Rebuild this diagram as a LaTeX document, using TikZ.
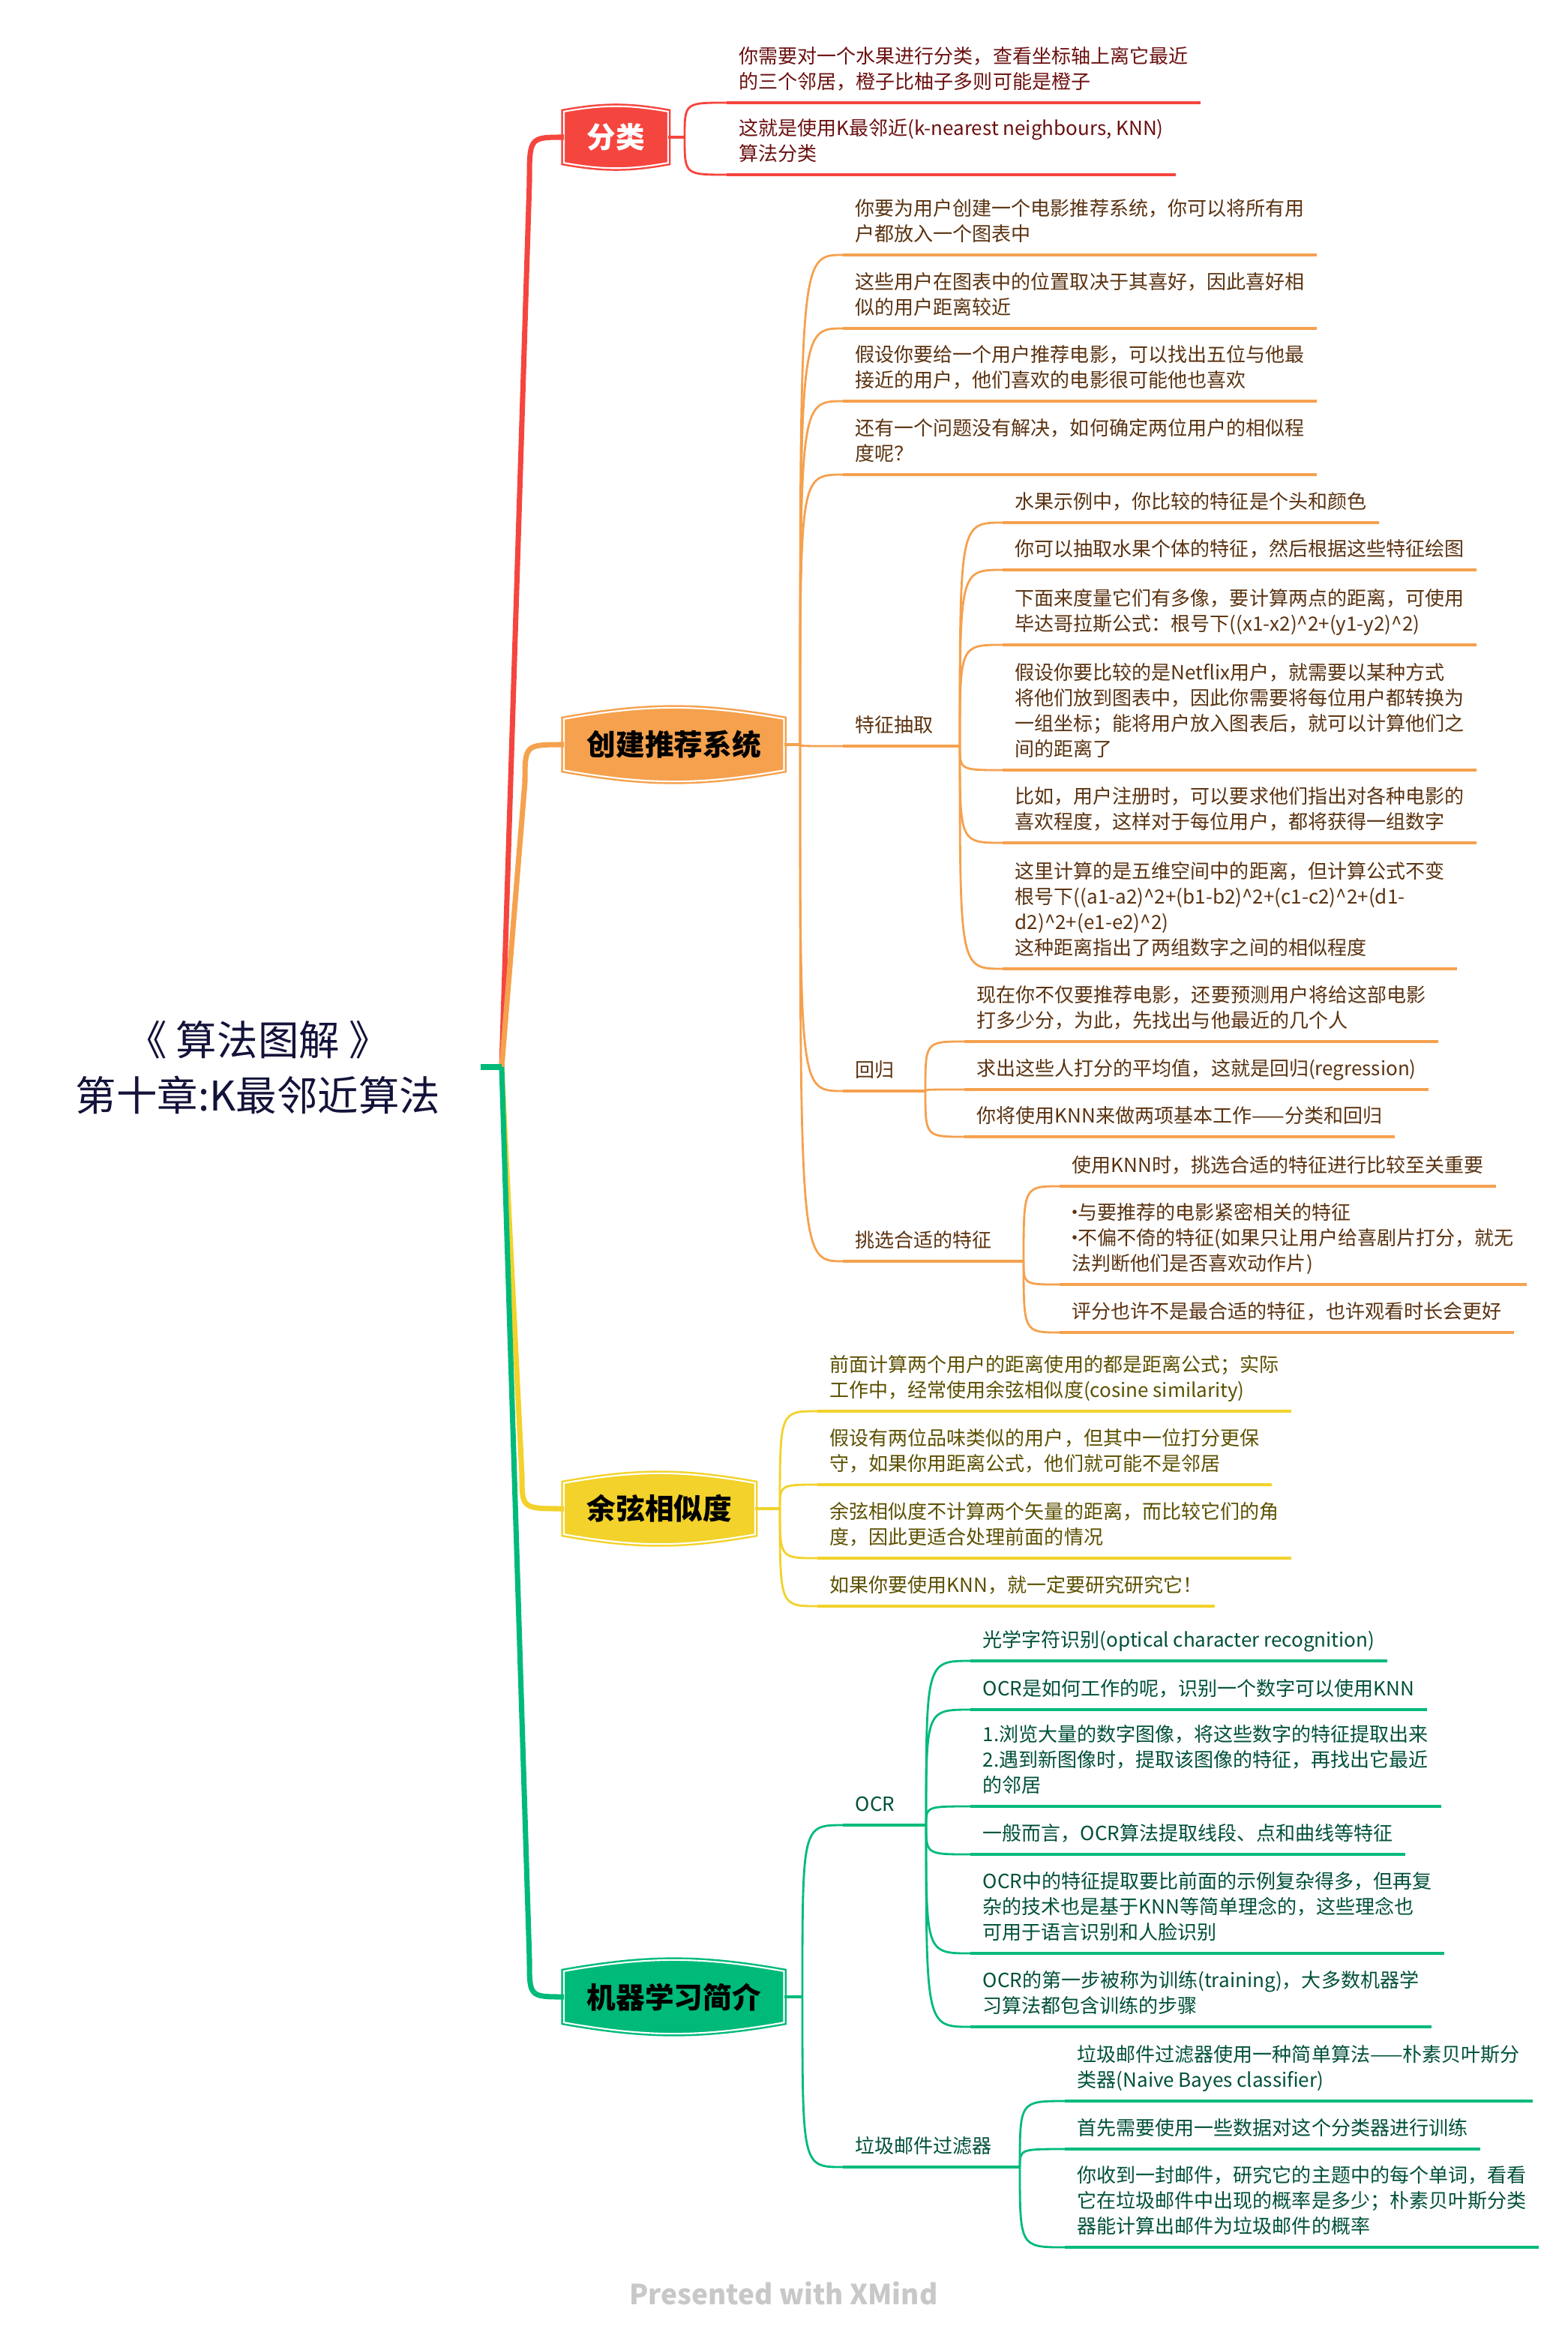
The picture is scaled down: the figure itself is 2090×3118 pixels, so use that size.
\documentclass[tikz,border=0pt]{standalone}
\usepackage{fontspec}
\setmainfont{Noto Sans CJK SC}
\usetikzlibrary{backgrounds}

\definecolor{xmred}{HTML}{F5453F}
\definecolor{xmorange}{HTML}{F5A14E}
\definecolor{xmyellow}{HTML}{F2D22B}
\definecolor{xmgreen}{HTML}{00BA7A}
\definecolor{txred}{HTML}{6B1010}
\definecolor{txorange}{HTML}{5A3210}
\definecolor{txyellow}{HTML}{5C5000}
\definecolor{txgreen}{HTML}{00503A}
\definecolor{txroot}{HTML}{12123A}
\definecolor{footgray}{HTML}{C8C8C8}

\newcommand{\crt}{\textasciicircum}
\newcommand{\bul}{\makebox[0.3em][c]{·}}

\tikzset{
  root/.style={align=center, text=txroot, font=\fontsize{15.5}{21}\selectfont},
  topic/.style={anchor=west, minimum height=0.67cm, inner xsep=0.3cm, inner ysep=0pt, font=\fontsize{11}{13}\selectfont\bfseries, text=black},
  leaf/.style={anchor=south west, align=left, inner xsep=0.16cm, inner ysep=4pt, text depth=1pt, font=\fontsize{7.4}{9.65}\selectfont,
    append after command={(\tikzlastnode.south west) edge[line width=1pt] (\tikzlastnode.south east)}},
  trunk/.style={line width=2pt},
  stem/.style={line width=1.1pt},
  twig/.style={line width=0.8pt, to path={.. controls (\tikztostart |- \tikztotarget) .. (\tikztotarget)}},
  bulge/.style={insert path={(#1.south west) -- (#1.north west) to[bend left=10] (#1.north east) -- (#1.south east) to[bend left=10] (#1.south west) -- cycle}},
  shell/.style={line width=0.7pt, double=white, double distance=0.6pt}
}

\begin{document}
\begin{tikzpicture}[x=0.01cm, y=-0.01cm]
\useasboundingbox (0,0) rectangle (2090,3118);

\node[root] (root) at (344,1424) {《 算法图解 》\\第十章:K最邻近算法};
\coordinate (stub) at (641,1423);
\coordinate (hub) at (669,1423);

% 分类
\begin{scope}[color=xmred, text=txred]
  \node[topic, text=white] (cls) at (752,183) {分类};
  \coordinate (fkcls) at (913,183);
  \node[leaf] (cls1) at (969,137) {你需要对一个水果进行分类，查看坐标轴上离它最近\\的三个邻居，橙子比柚子多则可能是橙子};
  \node[leaf] (cls2) at (969,233) {这就是使用K最邻近(k-nearest neighbours, KNN)\\算法分类};
  \draw[trunk] (hub) -- ([shift={(-46,60)}]cls.west) .. controls ([shift={(-46,0)}]cls.west) .. (cls.west);
  \draw[stem] (cls.east) -- (fkcls);
  \foreach \n in {cls1,cls2} \draw[twig] (fkcls) to (\n.south west);
\end{scope}

% 创建推荐系统
\begin{scope}[color=xmorange, text=txorange]
  \node[topic] (rec) at (752,993) {创建推荐系统};
  \coordinate (fkrec) at (1067,993);
  \node[leaf] (rec1) at (1124,340) {你要为用户创建一个电影推荐系统，你可以将所有用\\户都放入一个图表中};
  \node[leaf] (rec2) at (1124,438) {这些用户在图表中的位置取决于其喜好，因此喜好相\\似的用户距离较近};
  \node[leaf] (rec3) at (1124,535) {假设你要给一个用户推荐电影，可以找出五位与他最\\接近的用户，他们喜欢的电影很可能他也喜欢};
  \node[leaf] (rec4) at (1124,633) {还有一个问题没有解决，如何确定两位用户的相似程\\度呢？};
  \node[leaf] (feat) at (1124,995) {特征抽取};
  \node[leaf] (regr) at (1124,1455) {回归};
  \node[leaf] (pick) at (1124,1682) {挑选合适的特征};
  \coordinate (fkfeat) at (1280,995);
  \coordinate (fkregr) at (1234,1455);
  \coordinate (fkpick) at (1365,1682);
  \node[leaf] (feat1) at (1337,697) {水果示例中，你比较的特征是个头和颜色};
  \node[leaf] (feat2) at (1337,760) {你可以抽取水果个体的特征，然后根据这些特征绘图};
  \node[leaf] (feat3) at (1337,860) {下面来度量它们有多像，要计算两点的距离，可使用\\毕达哥拉斯公式：根号下((x1-x2)\crt2+(y1-y2)\crt2)};
  \node[leaf] (feat4) at (1337,1027) {假设你要比较的是Netflix用户，就需要以某种方式\\将他们放到图表中，因此你需要将每位用户都转换为\\一组坐标；能将用户放入图表后，就可以计算他们之\\间的距离了};
  \node[leaf] (feat5) at (1337,1124) {比如，用户注册时，可以要求他们指出对各种电影的\\喜欢程度，这样对于每位用户，都将获得一组数字};
  \node[leaf] (feat6) at (1337,1292) {这里计算的是五维空间中的距离，但计算公式不变\\根号下((a1-a2)\crt2+(b1-b2)\crt2+(c1-c2)\crt2+(d1-\\d2)\crt2+(e1-e2)\crt2)\\这种距离指出了两组数字之间的相似程度};
  \node[leaf] (regr1) at (1286,1389) {现在你不仅要推荐电影，还要预测用户将给这部电影\\打多少分，为此，先找出与他最近的几个人};
  \node[leaf] (regr2) at (1286,1453) {求出这些人打分的平均值，这就是回归(regression)};
  \node[leaf] (regr3) at (1286,1516) {你将使用KNN来做两项基本工作——分类和回归};
  \node[leaf] (pick1) at (1413,1582) {使用KNN时，挑选合适的特征进行比较至关重要};
  \node[leaf] (pick2) at (1413,1713) {\bul 与要推荐的电影紧密相关的特征\\\bul 不偏不倚的特征(如果只让用户给喜剧片打分，就无\\法判断他们是否喜欢动作片)};
  \node[leaf] (pick3) at (1413,1777) {评分也许不是最合适的特征，也许观看时长会更好};
  \draw[trunk] (hub) -- ([shift={(-52,50)}]rec.west) .. controls ([shift={(-52,0)}]rec.west) .. (rec.west);
  \draw[stem] (rec.east) -- (fkrec);
  \foreach \n in {rec1,rec2,rec3,rec4,feat,regr,pick} \draw[twig] (fkrec) to (\n.south west);
  \draw[line width=1pt] (feat.south east) -- (fkfeat);
  \draw[line width=1pt] (regr.south east) -- (fkregr);
  \draw[line width=1pt] (pick.south east) -- (fkpick);
  \foreach \n in {feat1,feat2,feat3,feat4,feat5,feat6} \draw[twig] (fkfeat) to (\n.south west);
  \foreach \n in {regr1,regr2,regr3} \draw[twig] (fkregr) to (\n.south west);
  \foreach \n in {pick1,pick2,pick3} \draw[twig] (fkpick) to (\n.south west);
\end{scope}

% 余弦相似度
\begin{scope}[color=xmyellow, text=txyellow]
  \node[topic] (cos) at (752,2012) {余弦相似度};
  \coordinate (fkcos) at (1040,2012);
  \node[leaf] (cos1) at (1090,1882) {前面计算两个用户的距离使用的都是距离公式；实际\\工作中，经常使用余弦相似度(cosine similarity)};
  \node[leaf] (cos2) at (1090,1980) {假设有两位品味类似的用户，但其中一位打分更保\\守，如果你用距离公式，他们就可能不是邻居};
  \node[leaf] (cos3) at (1090,2078) {余弦相似度不计算两个矢量的距离，而比较它们的角\\度，因此更适合处理前面的情况};
  \node[leaf] (cos4) at (1090,2142) {如果你要使用KNN，就一定要研究研究它！};
  \draw[trunk] (hub) -- ([shift={(-56,-45)}]cos.west) .. controls ([shift={(-56,0)}]cos.west) .. (cos.west);
  \draw[stem] (cos.east) -- (fkcos);
  \foreach \n in {cos1,cos2,cos3,cos4} \draw[twig] (fkcos) to (\n.south west);
\end{scope}

% 机器学习简介
\begin{scope}[color=xmgreen, text=txgreen]
  \node[topic] (ml) at (752,2663) {机器学习简介};
  \coordinate (fkml) at (1070,2663);
  \node[leaf] (ocr) at (1124,2434) {OCR};
  \node[leaf] (spam) at (1124,2890) {垃圾邮件过滤器};
  \coordinate (fkocr) at (1235,2434);
  \coordinate (fkspam) at (1360,2890);
  \node[leaf] (ocr1) at (1294,2215) {光学字符识别(optical character recognition)};
  \node[leaf] (ocr2) at (1294,2280) {OCR是如何工作的呢，识别一个数字可以使用KNN};
  \node[leaf] (ocr3) at (1294,2409) {1.浏览大量的数字图像，将这些数字的特征提取出来\\2.遇到新图像时，提取该图像的特征，再找出它最近\\的邻居};
  \node[leaf] (ocr4) at (1294,2473) {一般而言，OCR算法提取线段、点和曲线等特征};
  \node[leaf] (ocr5) at (1294,2605) {OCR中的特征提取要比前面的示例复杂得多，但再复\\杂的技术也是基于KNN等简单理念的，这些理念也\\可用于语言识别和人脸识别};
  \node[leaf] (ocr6) at (1294,2703) {OCR的第一步被称为训练(training)，大多数机器学\\习算法都包含训练的步骤};
  \node[leaf] (spam1) at (1420,2802) {垃圾邮件过滤器使用一种简单算法——朴素贝叶斯分\\类器(Naive Bayes classifier)};
  \node[leaf] (spam2) at (1420,2866) {首先需要使用一些数据对这个分类器进行训练};
  \node[leaf] (spam3) at (1420,2997) {你收到一封邮件，研究它的主题中的每个单词，看看\\它在垃圾邮件中出现的概率是多少；朴素贝叶斯分类\\器能计算出邮件为垃圾邮件的概率};
  \draw[trunk] (hub) -- ([shift={(-46,-50)}]ml.west) .. controls ([shift={(-46,0)}]ml.west) .. (ml.west);
  \draw[trunk] (stub) -- (hub);
  \draw[stem] (ml.east) -- (fkml);
  \foreach \n in {ocr,spam} \draw[twig] (fkml) to (\n.south west);
  \draw[line width=1pt] (ocr.south east) -- (fkocr);
  \draw[line width=1pt] (spam.south east) -- (fkspam);
  \foreach \n in {ocr1,ocr2,ocr3,ocr4,ocr5,ocr6} \draw[twig] (fkocr) to (\n.south west);
  \foreach \n in {spam1,spam2,spam3} \draw[twig] (fkspam) to (\n.south west);
\end{scope}

\node[text=footgray, font=\fontsize{10.5}{12}\selectfont\bfseries] (foot) at (1045,3058) {Presented with XMind};

\begin{scope}[on background layer]
  \path[fill=xmred, draw=xmred, shell, bulge=cls];
  \path[fill=xmorange, draw=xmorange, shell, bulge=rec];
  \path[fill=xmyellow, draw=xmyellow, shell, bulge=cos];
  \path[fill=xmgreen, draw=xmgreen, shell, bulge=ml];
\end{scope}
\end{tikzpicture}
\end{document}
